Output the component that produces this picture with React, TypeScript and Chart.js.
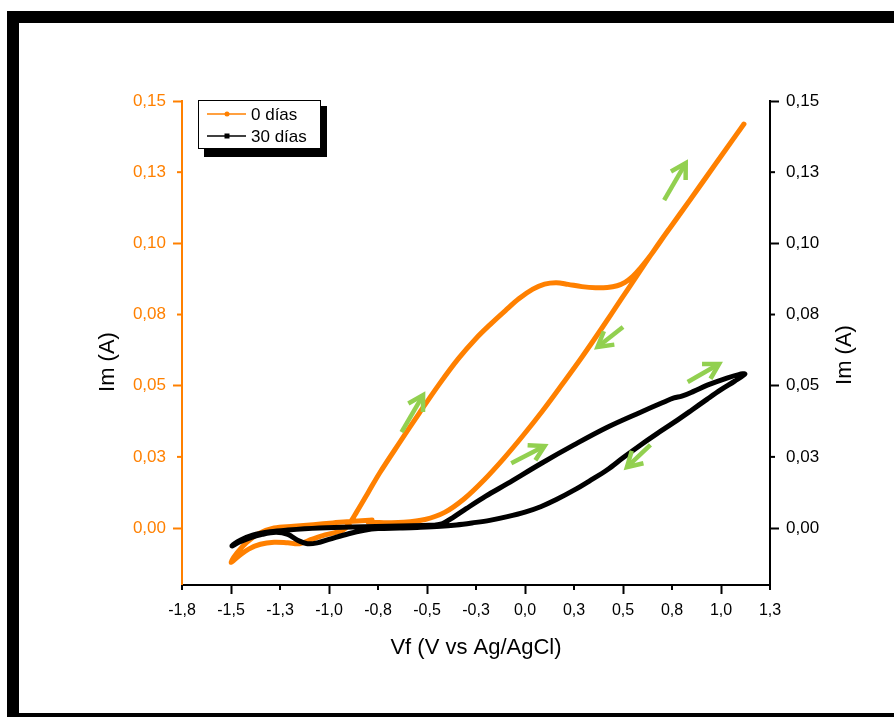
import React, { useEffect, useRef } from 'react';
import { Chart, registerables } from 'chart.js';
Chart.register(...registerables);

// ---- data ----
const seriesNames = ['0 días', '30 días'];

const orangeX = [-0.78, -0.88, -0.98, -1.08, -1.18, -1.28, -1.36, -1.42, -1.47, -1.50,
  -1.46, -1.41, -1.35, -1.28, -1.21, -1.15, -1.09, -1.02, -0.97, -0.93, -0.90, -0.86, -0.80,
  -0.74, -0.64, -0.54, -0.44, -0.34, -0.25, -0.17, -0.10, -0.03, 0.04, 0.10, 0.16, 0.22, 0.29, 0.36,
  0.42, 0.47, 0.51, 0.55, 0.59, 0.64, 0.72, 0.82, 0.92, 1.02, 1.117,
  1.04, 0.94, 0.84, 0.74, 0.66, 0.59, 0.49, 0.39, 0.29, 0.19, 0.09, -0.01, -0.11, -0.21, -0.31, -0.41, -0.51, -0.62, -0.72, -0.80];
const orangeY = [0.0028, 0.0024, 0.0018, 0.0012, 0.0006, 0.0000, -0.0020, -0.0050, -0.0088, -0.0120,
  -0.0098, -0.0074, -0.0057, -0.0050, -0.0052, -0.0055, -0.0040, -0.0024, -0.0016, -0.0008, 0.0012, 0.0055, 0.0125,
  0.0195, 0.0300, 0.0403, 0.0503, 0.0595, 0.0666, 0.0720, 0.0764, 0.0806, 0.0839, 0.0857, 0.0862, 0.0856, 0.0848, 0.0844,
  0.0845, 0.0851, 0.0863, 0.0884, 0.0914, 0.0957, 0.1035, 0.1131, 0.1228, 0.1325, 0.1419,
  0.1345, 0.1248, 0.1151, 0.1055, 0.0977, 0.0906, 0.0803, 0.0700, 0.0600, 0.0505, 0.0412, 0.0325, 0.0243, 0.0168, 0.0103, 0.0055, 0.0030, 0.0020, 0.0019, 0.0021];

const blackX = [-0.46, -0.42, -0.37, -0.30, -0.20, -0.09, 0.08, 0.25, 0.42, 0.59, 0.70, 0.76, 0.80, 0.86, 0.93, 1.03, 1.09, 1.122,
  1.07, 1.00, 0.93, 0.85, 0.76, 0.67, 0.59, 0.50, 0.42, 0.33, 0.25, 0.16, 0.08, 0.00, -0.09, -0.18, -0.27, -0.35, -0.43,
  -0.55, -0.64, -0.75, -0.82, -0.90, -1.00, -1.06, -1.11, -1.16, -1.21, -1.27, -1.34, -1.41, -1.46, -1.495,
  -1.45, -1.39, -1.30, -1.21, -1.05, -0.88, -0.64, -0.52, -0.46];
const blackY = [0.0010, 0.0016, 0.0036, 0.0068, 0.0112, 0.0156, 0.0226, 0.0292, 0.0354, 0.0407, 0.0440, 0.0457, 0.0463, 0.0480, 0.0502, 0.0527, 0.0539, 0.0541,
  0.0516, 0.0486, 0.0453, 0.0414, 0.0371, 0.0330, 0.0292, 0.0247, 0.0205, 0.0166, 0.0133, 0.0100, 0.0075, 0.0056, 0.0040, 0.0027, 0.0018, 0.0011, 0.0006,
  0.0002, 0.0000, -0.0002, -0.0008, -0.0020, -0.0040, -0.0052, -0.0055, -0.0043, -0.0022, -0.0015, -0.0022, -0.0036, -0.0050, -0.0063,
  -0.0042, -0.0025, -0.0013, -0.0007, 0.0000, 0.0004, 0.0007, 0.0009, 0.0010];

const xTickValues = [-1.75, -1.5, -1.25, -1.0, -0.75, -0.5, -0.25, 0, 0.25, 0.5, 0.75, 1.0, 1.25];
const xTickLabels = ['-1,8', '-1,5', '-1,3', '-1,0', '-0,8', '-0,5', '-0,3', '0,0', '0,3', '0,5', '0,8', '1,0', '1,3'];
const yTickValues = [0, 0.025, 0.05, 0.075, 0.1, 0.125, 0.15];
const yTickLabels = ['0,00', '0,03', '0,05', '0,08', '0,10', '0,13', '0,15'];

// direction arrows (annotations)
const arrowTailX = [0.71, 0.50, -0.63, -0.07, 0.83, 0.64];
const arrowTailY = [0.1152, 0.0706, 0.0337, 0.0228, 0.0513, 0.0292];
const arrowHeadX = [0.82, 0.37, -0.52, 0.10, 0.99, 0.52];
const arrowHeadY = [0.1282, 0.0636, 0.0467, 0.0288, 0.0576, 0.0214];

const ORANGE = '#FF8000';
const GREEN = '#92D050';
const FONT = "'Liberation Sans', Arial, Helvetica, sans-serif";

export default function App() {
  const ref = useRef<HTMLCanvasElement>(null);

  useEffect(() => {
    const canvas = ref.current;
    if (!canvas) return;
    const isMajorX = (v: number) => Math.abs(v * 2 - Math.round(v * 2)) < 1e-6;
    const isMajorY = (v: number) => Math.abs(v * 20 - Math.round(v * 20)) < 1e-6;

    const extras = {
      id: 'extras',
      afterDatasetsDraw(chart: any) {
        const ctx = chart.ctx;
        const xs = chart.scales.x;
        const ys = chart.scales.y;
        ctx.save();
        ctx.strokeStyle = GREEN;
        ctx.lineWidth = 4.5;
        ctx.lineCap = 'butt';
        ctx.lineJoin = 'miter';
        for (let i = 0; i < arrowTailX.length; i++) {
          const tx = xs.getPixelForValue(arrowTailX[i]);
          const ty = ys.getPixelForValue(arrowTailY[i]);
          const hx = xs.getPixelForValue(arrowHeadX[i]);
          const hy = ys.getPixelForValue(arrowHeadY[i]);
          const ang = Math.atan2(hy - ty, hx - tx);
          const L = 17;
          ctx.beginPath();
          ctx.moveTo(tx, ty);
          ctx.lineTo(hx, hy);
          ctx.stroke();
          ctx.beginPath();
          ctx.moveTo(hx - L * Math.cos(ang - Math.PI / 6), hy - L * Math.sin(ang - Math.PI / 6));
          ctx.lineTo(hx, hy);
          ctx.lineTo(hx - L * Math.cos(ang + Math.PI / 6), hy - L * Math.sin(ang + Math.PI / 6));
          ctx.stroke();
        }
        ctx.restore();
      },
      afterDraw(chart: any) {
        const ctx = chart.ctx;
        const area = chart.chartArea;
        const xs = chart.scales.x;
        const ys = chart.scales.y;
        const ys2 = chart.scales.y2;
        ctx.save();
        // minor ticks
        ctx.lineWidth = 2;
        ctx.strokeStyle = '#000';
        xTickValues.forEach((v) => {
          if (isMajorX(v)) return;
          const px = xs.getPixelForValue(v);
          ctx.beginPath();
          ctx.moveTo(px, area.bottom);
          ctx.lineTo(px, area.bottom + 5);
          ctx.stroke();
        });
        yTickValues.forEach((v) => {
          if (isMajorY(v)) return;
          const py = ys.getPixelForValue(v);
          ctx.strokeStyle = ORANGE;
          ctx.beginPath();
          ctx.moveTo(area.left, py);
          ctx.lineTo(area.left - 5, py);
          ctx.stroke();
          const py2 = ys2.getPixelForValue(v);
          ctx.strokeStyle = '#000';
          ctx.beginPath();
          ctx.moveTo(area.right, py2);
          ctx.lineTo(area.right + 5, py2);
          ctx.stroke();
        });
        // y axis titles (both read bottom-to-top)
        ctx.fillStyle = '#000';
        ctx.font = `22px ${FONT}`;
        ctx.textAlign = 'center';
        ctx.textBaseline = 'middle';
        ctx.save();
        ctx.translate(108, 362);
        ctx.rotate(-Math.PI / 2);
        ctx.fillText('Im (A)', 0, 0);
        ctx.restore();
        ctx.save();
        ctx.translate(845, 355);
        ctx.rotate(-Math.PI / 2);
        ctx.fillText('Im (A)', 0, 0);
        ctx.restore();
        ctx.restore();

        // legend
        ctx.save();
        const bx = area.left + 16;
        const by = area.top - 1;
        const bw = 123;
        const bh = 49;
        ctx.fillStyle = '#000';
        ctx.fillRect(bx + 6, by + 6, bw, bh + 2);
        ctx.fillStyle = '#fff';
        ctx.fillRect(bx, by, bw, bh);
        ctx.strokeStyle = '#000';
        ctx.lineWidth = 1;
        ctx.strokeRect(bx + 0.5, by + 0.5, bw - 1, bh - 1);
        const rows = [
          { name: seriesNames[0], color: ORANGE, y: by + 14, marker: 'circle' },
          { name: seriesNames[1], color: '#000', y: by + 36, marker: 'square' },
        ];
        rows.forEach((r) => {
          ctx.strokeStyle = r.color;
          ctx.fillStyle = r.color;
          ctx.lineWidth = 1.5;
          ctx.beginPath();
          ctx.moveTo(bx + 9, r.y);
          ctx.lineTo(bx + 48, r.y);
          ctx.stroke();
          if (r.marker === 'circle') {
            ctx.beginPath();
            ctx.arc(bx + 29, r.y, 2.5, 0, Math.PI * 2);
            ctx.fill();
          } else {
            ctx.fillRect(bx + 26.5, r.y - 2.5, 5, 5);
          }
          ctx.fillStyle = '#000';
          ctx.font = `17px ${FONT}`;
          ctx.textAlign = 'left';
          ctx.textBaseline = 'middle';
          ctx.fillText(r.name, bx + 53, r.y + 1);
        });
        ctx.restore();
      },
    };

    const yTicksBuild = (s: any) => { s.ticks = yTickValues.map((v) => ({ value: v })); };

    const chart = new Chart(canvas, {
      type: 'scatter',
      data: {
        datasets: [
          {
            label: seriesNames[0],
            data: orangeX.map((x, i) => ({ x, y: orangeY[i] })),
            showLine: true,
            borderColor: ORANGE,
            backgroundColor: ORANGE,
            borderWidth: 5,
            pointRadius: 0,
            tension: 0.35,
            borderCapStyle: 'round',
            borderJoinStyle: 'round',
            order: 2,
            yAxisID: 'y',
          },
          {
            label: seriesNames[1],
            data: blackX.map((x, i) => ({ x, y: blackY[i] })),
            showLine: true,
            borderColor: '#000',
            backgroundColor: '#000',
            borderWidth: 5,
            pointRadius: 0,
            tension: 0.35,
            borderCapStyle: 'round',
            borderJoinStyle: 'round',
            order: 1,
            yAxisID: 'y',
          },
        ],
      } as any,
      options: {
        responsive: false,
        animation: false,
        devicePixelRatio: 1,
        layout: { padding: { left: 91, right: 33, top: 101, bottom: 52 } },
        plugins: { legend: { display: false }, tooltip: { enabled: false } },
        scales: {
          x: {
            type: 'linear',
            position: 'bottom',
            min: -1.75,
            max: 1.25,
            afterBuildTicks: (s: any) => { s.ticks = xTickValues.map((v) => ({ value: v })); },
            afterFit: (s: any) => { s.height = 80; },
            ticks: {
              callback: (_v: any, i: number) => xTickLabels[i],
              color: '#000',
              font: { family: FONT, size: 16 },
              padding: 7,
              maxRotation: 0,
              autoSkip: false,
            },
            grid: {
              drawOnChartArea: false,
              drawTicks: true,
              tickLength: 9,
              tickWidth: 2,
              tickColor: (c: any) => (c.tick && isMajorX(c.tick.value) ? '#000' : 'rgba(0,0,0,0)'),
            },
            border: { display: true, color: '#000', width: 2 },
            title: {
              display: true,
              text: 'Vf (V vs Ag/AgCl)',
              color: '#000',
              font: { family: FONT, size: 22 },
              padding: { top: 4, bottom: 4 },
            },
          },
          y: {
            type: 'linear',
            position: 'left',
            min: -0.02,
            max: 0.15,
            afterBuildTicks: yTicksBuild,
            afterFit: (s: any) => { s.width = 91; },
            ticks: {
              callback: (_v: any, i: number) => yTickLabels[i],
              color: ORANGE,
              font: { family: FONT, size: 17 },
              padding: 7,
              autoSkip: false,
            },
            grid: {
              drawOnChartArea: false,
              drawTicks: true,
              tickLength: 9,
              tickWidth: 2,
              tickColor: (c: any) => (c.tick && isMajorY(c.tick.value) ? ORANGE : 'rgba(0,0,0,0)'),
            },
            border: { display: true, color: ORANGE, width: 2 },
            title: { display: false },
          },
          y2: {
            type: 'linear',
            position: 'right',
            min: -0.02,
            max: 0.15,
            afterBuildTicks: yTicksBuild,
            afterFit: (s: any) => { s.width = 91; },
            ticks: {
              callback: (_v: any, i: number) => yTickLabels[i],
              color: '#000',
              font: { family: FONT, size: 17 },
              padding: 7,
              autoSkip: false,
            },
            grid: {
              drawOnChartArea: false,
              drawTicks: true,
              tickLength: 9,
              tickWidth: 2,
              tickColor: (c: any) => (c.tick && isMajorY(c.tick.value) ? '#000' : 'rgba(0,0,0,0)'),
            },
            border: { display: true, color: '#000', width: 2 },
            title: { display: false },
          },
        },
      } as any,
      plugins: [extras],
    });
    return () => chart.destroy();
  }, []);

  return (
    <div style={{ position: 'fixed', left: 0, top: 0, width: 894, height: 717, background: '#fff', overflow: 'hidden' }}>
      <div
        style={{
          position: 'absolute',
          left: 7,
          top: 11,
          width: 930,
          height: 714,
          border: '12px solid #000',
          boxSizing: 'border-box',
        }}
      />
      <canvas ref={ref} width={894} height={717} style={{ position: 'absolute', left: 0, top: 0, width: 894, height: 717 }} />
    </div>
  );
}
